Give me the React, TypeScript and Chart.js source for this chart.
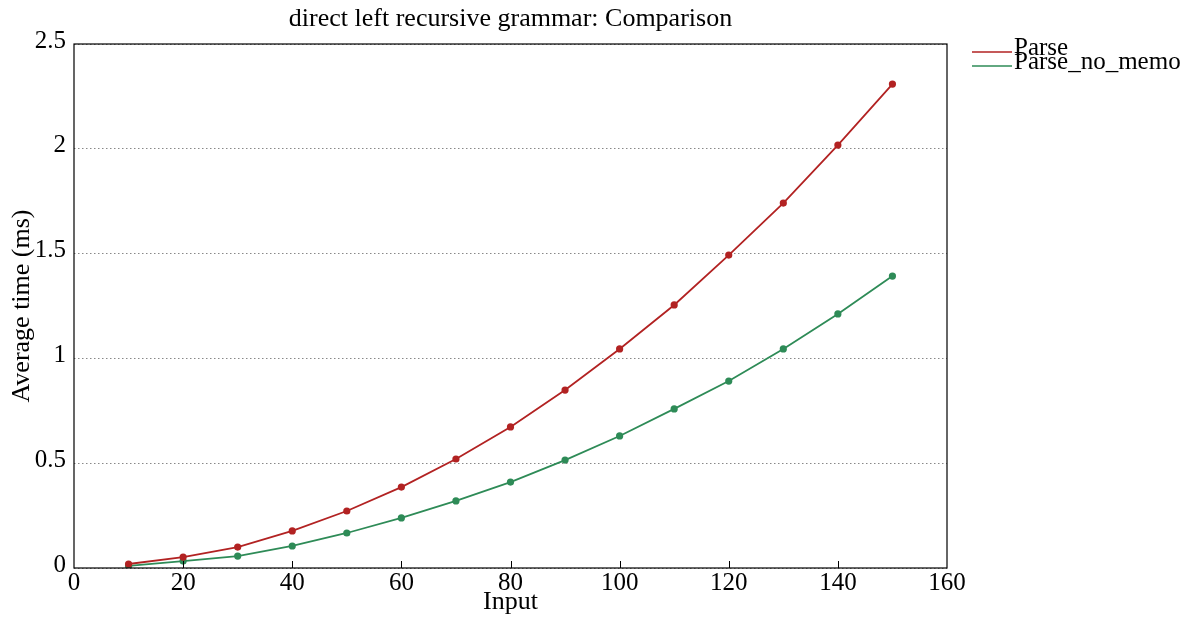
import React, { useEffect, useRef } from "react";
import { Chart, registerables } from "chart.js";

Chart.register(...registerables);

const inputs = [10, 20, 30, 40, 50, 60, 70, 80, 90, 100, 110, 120, 130, 140, 150];
const parseTimes = [0.019, 0.052, 0.1, 0.177, 0.272, 0.386, 0.52, 0.673, 0.849, 1.045, 1.255, 1.493, 1.741, 2.018, 2.309];
const parseNoMemoTimes = [0.01, 0.033, 0.057, 0.105, 0.167, 0.239, 0.32, 0.41, 0.515, 0.63, 0.759, 0.892, 1.045, 1.212, 1.393];
const xTicks = [0, 20, 40, 60, 80, 100, 120, 140, 160];
const yTicks = [0, 0.5, 1, 1.5, 2, 2.5];
const seriesNames = ["Parse", "Parse_no_memo"];
const seriesColors = ["#b22222", "#2e8b57"];
const titleText = "direct left recursive grammar: Comparison";

const SERIF = "'Liberation Serif', 'DejaVu Serif', serif";

const decorPlugin = {
  id: "decor",
  afterDraw(chart: any) {
    const { ctx, chartArea } = chart;
    const { left, right, top, bottom } = chartArea;
    ctx.save();
    // box
    ctx.strokeStyle = "#000";
    ctx.lineWidth = 1.2;
    ctx.setLineDash([]);
    ctx.strokeRect(left, top, right - left, bottom - top);
    // inner ticks on bottom axis
    const xs = chart.scales.x;
    ctx.lineWidth = 1;
    for (const v of xTicks) {
      if (v === xTicks[0] || v === xTicks[xTicks.length - 1]) continue;
      const px = Math.round(xs.getPixelForValue(v)) + 0.5;
      ctx.beginPath();
      ctx.moveTo(px, bottom);
      ctx.lineTo(px, bottom - 7);
      ctx.stroke();
    }
    // title
    ctx.fillStyle = "#000";
    ctx.font = `26px ${SERIF}`;
    ctx.textAlign = "center";
    ctx.textBaseline = "alphabetic";
    ctx.fillText(titleText, (left + right) / 2, 26);
    // legend
    ctx.textAlign = "left";
    ctx.font = `25px ${SERIF}`;
    seriesNames.forEach((name, i) => {
      const y = 52 + i * 14;
      ctx.strokeStyle = seriesColors[i];
      ctx.lineWidth = 1.6;
      ctx.beginPath();
      ctx.moveTo(972, y);
      ctx.lineTo(1012, y);
      ctx.stroke();
      ctx.fillStyle = "#000";
      ctx.fillText(name, 1014, y + 3);
    });
    ctx.restore();
  },
};

export default function App() {
  const ref = useRef<HTMLCanvasElement | null>(null);
  useEffect(() => {
    document.body.style.margin = "0";
    if (!ref.current) return;
    const chart = new Chart(ref.current, {
      type: "line",
      data: {
        datasets: [
          {
            label: seriesNames[0],
            data: inputs.map((x, i) => ({ x, y: parseTimes[i] })),
            borderColor: seriesColors[0],
            backgroundColor: seriesColors[0],
            borderWidth: 1.8,
            pointRadius: 3.6,
            pointBorderWidth: 0,
            tension: 0,
          },
          {
            label: seriesNames[1],
            data: inputs.map((x, i) => ({ x, y: parseNoMemoTimes[i] })),
            borderColor: seriesColors[1],
            backgroundColor: seriesColors[1],
            borderWidth: 1.8,
            pointRadius: 3.6,
            pointBorderWidth: 0,
            tension: 0,
          },
        ],
      },
      options: {
        animation: false,
        responsive: false,
        layout: { padding: { top: 44, right: 255, left: 0, bottom: 0 } },
        plugins: {
          legend: { display: false },
          title: { display: false },
          tooltip: { enabled: false },
        },
        scales: {
          x: {
            type: "linear",
            min: 0,
            max: 160,
            afterBuildTicks: (s: any) => {
              s.ticks = xTicks.map((v) => ({ value: v }));
            },
            afterFit: (s: any) => {
              s.height = 52;
            },
            grid: { display: false, drawTicks: false },
            border: { display: false },
            ticks: {
              padding: 0,
              color: "#000",
              font: { family: SERIF, size: 25 },
              maxRotation: 0,
              autoSkip: false,
            },
            title: {
              display: true,
              text: "Input",
              color: "#000",
              font: { family: SERIF, size: 26 },
              padding: { top: 0, bottom: 2 },
            },
          },
          y: {
            type: "linear",
            min: 0,
            max: 2.5,
            afterBuildTicks: (s: any) => {
              s.ticks = yTicks.map((v) => ({ value: v }));
            },
            afterFit: (s: any) => {
              s.width = 74;
            },
            grid: { display: true, drawTicks: false, color: "#888", lineWidth: 1 },
            border: { display: false, dash: [1.5, 2.5] },
            ticks: {
              padding: 8,
              labelOffset: -3,
              color: "#000",
              font: { family: SERIF, size: 25 },
              autoSkip: false,
              callback: (v: any) => String(v),
            },
            title: {
              display: true,
              text: "Average time (ms)",
              color: "#000",
              font: { family: SERIF, size: 26 },
              padding: { top: 7, bottom: 0 },
            },
          },
        },
      },
      plugins: [decorPlugin],
    });
    return () => chart.destroy();
  }, []);
  return <canvas ref={ref} width={1202} height={620} style={{ display: "block" }} />;
}
